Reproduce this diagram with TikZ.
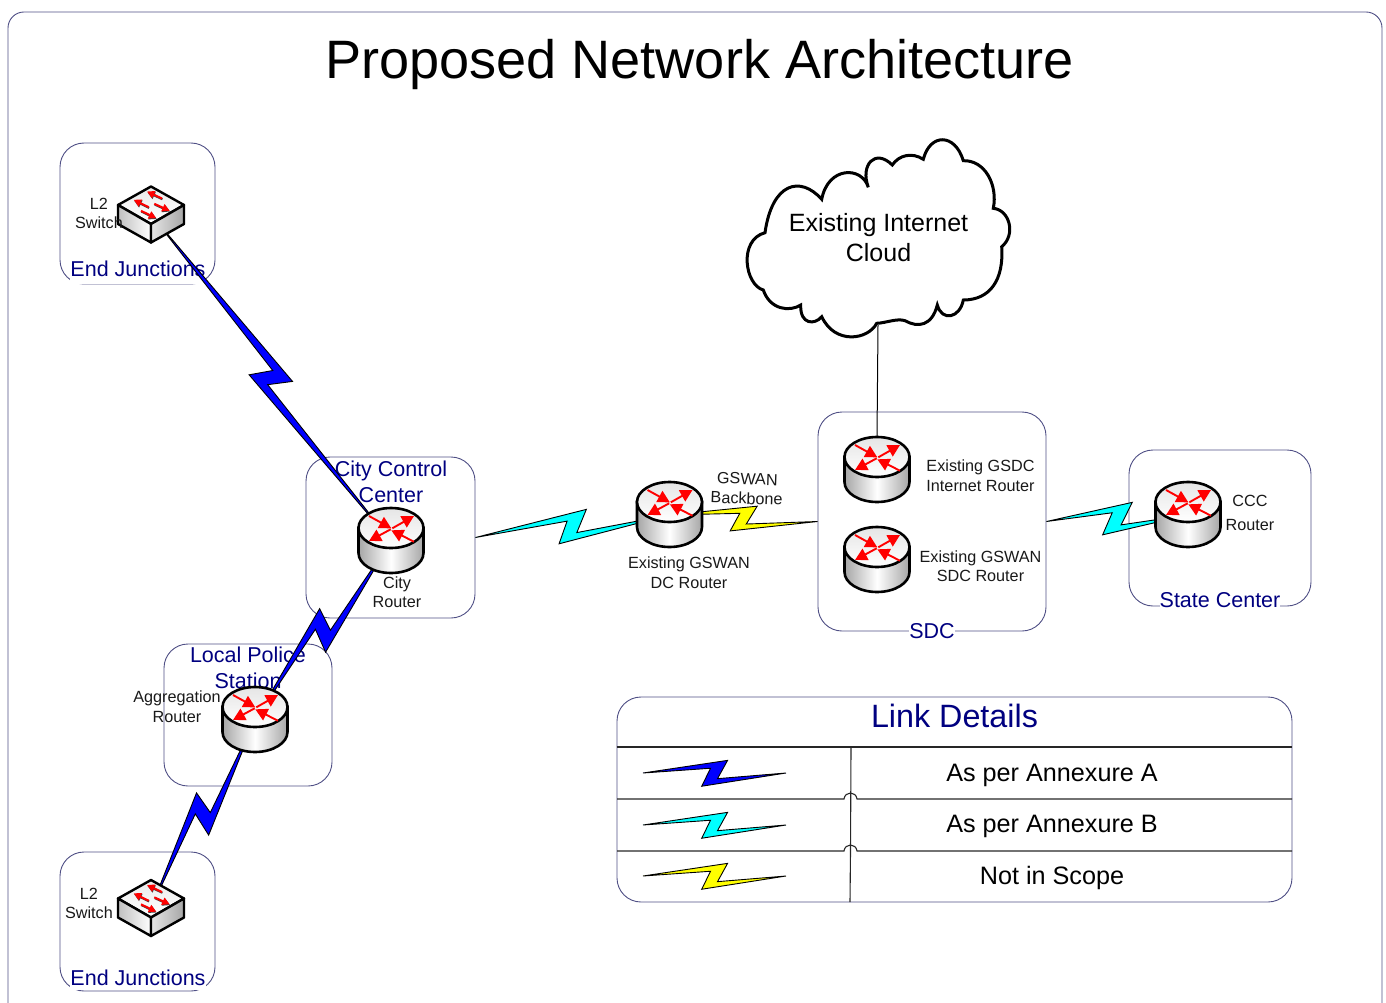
\documentclass[tikz,border=0pt]{standalone}
\usepackage{fontspec}
\setmainfont{Liberation Sans}
\usetikzlibrary{calc, arrows.meta}
\pgfdeclarelayer{back}
\pgfdeclarelayer{link}
\pgfsetlayers{back,link,main}
\definecolor{framecol}{HTML}{4F4F85}
\definecolor{navytext}{HTML}{000080}
\definecolor{boltblue}{HTML}{0000FF}
\definecolor{boltcyan}{HTML}{00FFFF}
\definecolor{boltyellow}{HTML}{FFFF00}
\definecolor{arrowred}{HTML}{FF0000}
\newcommand{\Bolt}[4]{
    \begin{pgfonlayer}{link}
        \coordinate (mid) at ($(#1)!0.5!(#2)$);
        \draw[line width=0.9pt, fill=#3, line join=miter] (#1)
            -- ($(mid)!#4*18.2pt!44:(#2)$) -- ($(mid)!#4*6.4pt!-62:(#2)$) -- (#2)
            -- ($(mid)!#4*18.4pt!226:(#2)$) -- ($(mid)!#4*6.2pt!130:(#2)$) -- cycle;
    \end{pgfonlayer}
}
\tikzset{
    zonebox/.style = {
        draw=framecol, rectangle, rounded corners=24pt, line width=0.9pt, inner sep=0pt
    },
    zonelabel/.style = {
        text=navytext, align=center, inner sep=0pt, font=\fontsize{21.5}{26}\selectfont
    },
    devlabel/.style = {
        align=center, inner sep=0pt, yshift=-0.2pt, text=black!90, font=\fontsize{16.2}{19.5}\selectfont
    },
    celltext/.style = {
        inner sep=0pt, font=\fontsize{25.2}{30}\selectfont
    },
    rule/.style = {
        line width=1.1pt, black!85
    },
    Router/.pic = {
        \node [circle, minimum size=66pt, inner sep=0pt](-edge){};
        \draw[line width=2.6pt, left color=black!35, right color=black!35, middle color=white]
            (-32.5,-13) -- (-32.5,12) arc [start angle=180, end angle=0, x radius=32.5, y radius=20] -- (32.5,-13) -- cycle;
        \draw[line width=2.6pt, top color=black!10, bottom color=white]
            (0,-13) ellipse [x radius=32.5, y radius=20];
        \foreach \xa/\ya/\xb/\yb in {-22/-25/0.3/-12.7, 1.3/-12.7/23/-25, -0.3/-11.7/-22/0, 23/0.7/0.3/-10.7}{
            \draw[-{Triangle[width=12.5pt,length=12pt]}, line width=1.9pt, arrowred] (\xa,\ya) -- (\xb,\yb);
        }
    },
    Switch/.pic = {
        \node [rectangle, minimum width=67pt, minimum height=57pt, inner sep=0pt](-edge){};
        \draw[line width=2.4pt, line join=round, top color=black!8, bottom color=white]
            (-33,-9.5) -- (0,-28) -- (33,-9.5) -- (0,9.5) -- cycle;
        \draw[line width=2.4pt, line join=round, left color=black!25, right color=white]
            (-33,-9.5) -- (0,9.5) -- (0,28) -- (-33,9.5) -- cycle;
        \draw[line width=2.4pt, line join=round, left color=black!10, right color=black!35]
            (33,-9.5) -- (0,9.5) -- (0,28) -- (33,9.5) -- cycle;
        \foreach \xa/\ya/\xb/\yb in {11/-16/-4/-23, -2.3/-7.3/-17.3/-14.7, 3.3/-10.7/18.7/-3.7, -10/-3.7/5.3/3.7}{
            \draw[-{Triangle[width=7.5pt,length=7.5pt]}, line width=2pt, black!75, xshift=0.4pt, yshift=-0.8pt] (\xa,\ya) -- (\xb,\yb);
            \draw[-{Triangle[width=7.5pt,length=7.5pt]}, line width=2pt, arrowred] (\xa,\ya) -- (\xb,\yb);
        }
    },
}

\begin{document}
\begin{tikzpicture}[x=1pt, y=-1pt]
    \useasboundingbox (0,0) rectangle (1386,1003);

    % Outer frame and title
    \draw[framecol, line width=0.9pt, rounded corners=16pt] (8,12) rectangle (1382,1030);
    \node[inner sep=0pt, font=\fontsize{54.1}{60}\selectfont] (title) at (699.5,65) {Proposed Network Architecture};

    % Place the zones
    \begin{pgfonlayer}{back}
        \node[zonebox, minimum width=155pt, minimum height=141pt] (ej1) at (137.5,213.5) {};
        \node[zonebox, minimum width=155pt, minimum height=139pt] (ej2) at (137.5,921.5) {};
        \node[zonebox, minimum width=169pt, minimum height=161pt] (ccc) at (390.5,537.5) {};
        \node[zonebox, minimum width=168pt, minimum height=142pt] (lps) at (248,715) {};
        \node[zonebox, minimum width=228pt, minimum height=219pt] (sdc) at (932,521.5) {};
        \node[zonebox, minimum width=182pt, minimum height=156pt] (stc) at (1220,528) {};
        \node[zonebox, minimum width=675pt, minimum height=205pt] (lnk) at (954.5,799.5) {};

        \node[zonelabel, fill=white, anchor=base, text height=17pt, text depth=7.3pt] (ej1-label) at (138,276.7) {End Junctions};
        \node[zonelabel, fill=white, minimum height=24pt] (ej2-label) at (138,978) {End Junctions};
        \node[zonelabel] (ccc-label) at (391,482) {City Control\\Center};
        \node[zonelabel] (lps-label) at (248,668) {Local Police\\Station};
        \node[zonelabel, fill=white, minimum height=24pt] (sdc-label) at (932,631) {SDC};
        \node[zonelabel, fill=white, minimum height=24pt] (stc-label) at (1220,600) {State Center};
    \end{pgfonlayer}

    % Place the devices
    \draw pic (sw1) at (151,214.5) {Switch};
    \draw pic (sw2) at (151,908) {Switch};
    \draw pic (city) at (391,541) {Router};
    \draw pic (agg) at (255,720) {Router};
    \draw pic (dc) at (669.5,515) {Router};
    \draw pic (gsdc) at (877,470) {Router};
    \draw pic (gswan) at (877,560) {Router};
    \draw pic (ccr) at (1188,515) {Router};

    % Device labels
    \node[devlabel] (sw1-label) at (99,213) {L2\\Switch};
    \node[devlabel] (sw2-label) at (89,903) {L2\\Switch};
    \node[devlabel] (city-label) at (397,592) {City\\Router};
    \node[devlabel] (agg-label) at (177,706.5) {Aggregation\\Router};
    \node[devlabel] (dc-label) at (689,572.5) {Existing GSWAN\\DC Router};
    \node[devlabel, rotate=-2] (bb-label) at (747,488.5) {GSWAN\\Backbone};
    \node[devlabel] (gsdc-label) at (980.5,475.5) {Existing GSDC\\Internet Router};
    \node[devlabel] (gswan-label) at (980.5,566) {Existing GSWAN\\SDC Router};
    \node[devlabel, font=\fontsize{16.2}{24}\selectfont] (ccr-label) at (1250,513) {CCC\\Router};

    % Cloud
    \draw[line width=3pt, fill=white] (821.7,199.3)
        .. controls (828,166) and (862,166) .. (868.3,187.3)
        .. controls (860,165) and (875,148) .. (892.3,165)
        .. controls (899,155) and (912,152) .. (923.3,159.3)
        .. controls (930,133) and (955,133) .. (963.3,160.7)
        .. controls (985,160) and (998,185) .. (993.3,208.3)
        .. controls (1010,210) and (1016,235) .. (1001.7,246.7)
        .. controls (1004,280) and (990,300) .. (963.3,300)
        .. controls (960,318) and (942,322) .. (937.3,305)
        .. controls (932,326) and (918,328) .. (905,320.7)
        .. controls (897,318) and (886,323) .. (876.7,323.3)
        .. controls (868,340) and (835,345) .. (821.7,316.7)
        .. controls (815,325) and (800,325) .. (800.7,305)
        .. controls (790,312) and (770,310) .. (763.3,290)
        .. controls (745,285) and (738,240) .. (765,232.7)
        .. controls (772,183) and (800,175) .. (821.7,199.3) -- cycle;
    \node[align=center, inner sep=0pt, font=\fontsize{25}{30}\selectfont] (cloud) at (878.5,237.5) {Existing Internet\\Cloud};
    \coordinate (cloudbot) at (878,325);
    \draw[line width=1pt] (cloudbot) -- (gsdc-edge.north);

    % Draw connections
    \Bolt{sw1-edge.center}{city-edge.center}{boltblue}{1.2}
    \Bolt{city-edge.center}{agg-edge.center}{boltblue}{1.2}
    \Bolt{agg-edge.center}{sw2-edge.center}{boltblue}{1.2}
    \Bolt{ccc.east}{dc-edge.center}{boltcyan}{1.2}
    \Bolt{dc-edge.center}{sdc.west}{boltyellow}{1}
    \Bolt{sdc.east}{ccr-edge.center}{boltcyan}{1.2}

    % Link details table
    \node[zonelabel, font=\fontsize{32.3}{36}\selectfont] (lnk-title) at (954.5,716) {Link Details};
    \draw[rule] (lnk.west |- 0,747) -- (lnk.east |- 0,747);
    \foreach \y in {799,851}{
        \draw[rule] (617,\y) -- (844,\y) .. controls (845,\y-8) and (856,\y-8) .. (857,\y) -- (1292,\y);
    }
    \draw[rule] (851,747) -- (850.5,851) -- (850,902);

    \foreach \nm/\y/\col in {a/773/boltblue, b/825/boltcyan, c/876/boltyellow}{
        \coordinate (leg\nm-w) at (643,\y);
        \coordinate (leg\nm-e) at (786,\y);
        \Bolt{leg\nm-w}{leg\nm-e}{\col}{1}
    }
    \node[celltext] (cella) at (1052,775) {As per Annexure A};
    \node[celltext] (cellb) at (1052,826) {As per Annexure B};
    \node[celltext] (cellc) at (1052,878) {Not in Scope};
\end{tikzpicture}
\end{document}
